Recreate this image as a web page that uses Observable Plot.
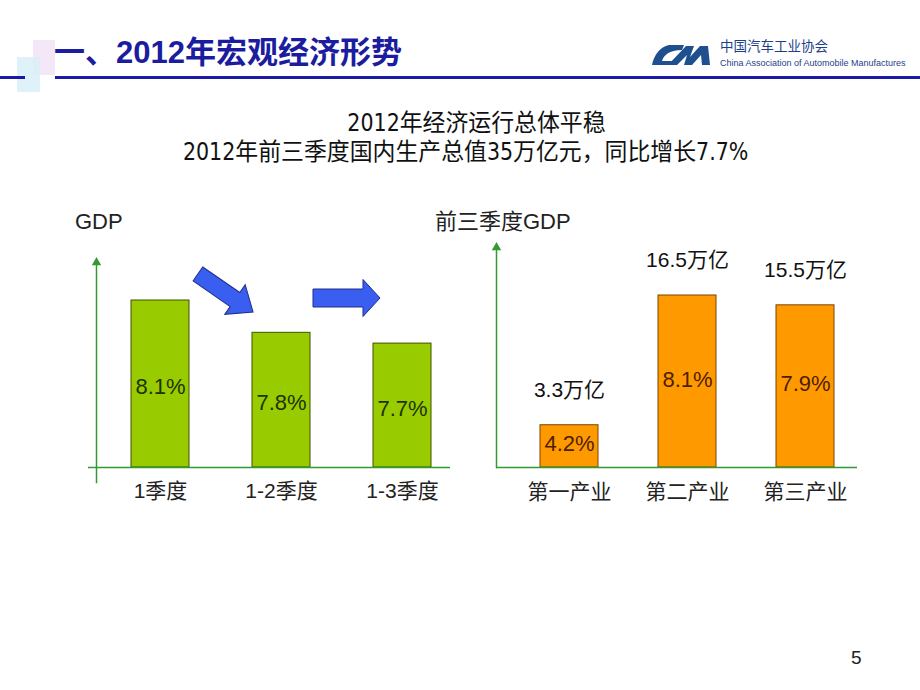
<!DOCTYPE html>
<html><head><meta charset="utf-8">
<script src="https://cdn.jsdelivr.net/npm/d3@7"></script>
<script src="https://cdn.jsdelivr.net/npm/@observablehq/plot@0.6"></script>
<style>
body{margin:0;background:#fff;}
#page{position:relative;width:920px;height:690px;overflow:hidden;background:#fff;font-family:"Liberation Sans","Noto Sans CJK SC",sans-serif;}
.abs{position:absolute;white-space:nowrap;}
.chart{position:absolute;top:200px;}
.ttl{top:0;line-height:30px;font-size:24px;color:#111;font-family:'Liberation Sans Narrow','DejaVu Sans Condensed','Noto Sans CJK SC',sans-serif;transform:scaleX(0.953);transform-origin:50% 50%;}
</style></head><body>
<div id="page">
  <div class="abs" style="left:33px;top:40px;width:22px;height:35px;background:#f1e3f7;opacity:.85"></div>
  <div class="abs" style="left:17px;top:57px;width:23px;height:35px;background:#d9eef8;opacity:.85"></div>
  <div class="abs" style="left:0;top:76px;width:25px;height:3px;background:#1a1aa6"></div>
  <div class="abs" style="left:55px;top:76px;width:865px;height:3px;background:#1a1aa6"></div>
  <div class="abs" style="left:54px;top:33px;line-height:40px;font-size:31px;font-weight:bold;color:#1c1c9e">一、2012年宏观经济形势</div>
  <svg class="abs" style="left:640px;top:36px" width="80" height="36" viewBox="640 36 80 36">
    <path d="M684,45 L669,45 C660,47 654,55 652,65 L672,65 L674,61 L662,61 C664,55 669,50 682,50 Z" fill="#1e4f8f"/>
    <path d="M668,65 L686,46 L694,46 L690,57 L700,46 L708,46 L710,65 L702,65 L701,55 L692,65 L684,65 L687,55 L677,65 Z" fill="#1e4f8f"/>
  </svg>
  <div class="abs" style="left:720px;top:38px;line-height:18px;font-size:13.5px;color:#1d3f8a">中国汽车工业协会</div>
  <div class="abs" style="left:720px;top:57px;line-height:12px;font-size:9px;color:#1d3f8a">China Association of Automobile Manufactures</div>
  <div id="t1" class="abs ttl" style="top:108px">2012年经济运行总体平稳</div>
  <div id="t2" class="abs ttl" style="top:137px">2012年前三季度国内生产总值35万亿元，同比增长7.7%</div>
  <div class="abs" style="left:75px;top:208px;line-height:28px;font-size:22px;color:#222">GDP</div>
  <div class="abs" style="left:435px;top:208px;line-height:28px;font-size:22px;color:#222">前三季度GDP</div>
  <div id="left" class="chart" style="left:0"></div>
  <div id="right" class="chart" style="left:460px"></div>
  <div class="abs" style="left:851px;top:646px;line-height:24px;font-size:19px;color:#222">5</div>
</div>
<script>
// ---- data ----
const growthPeriods = ["1季度", "1-2季度", "1-3季度"];
const growthRates = [8.1, 7.8, 7.7];
const growthLabels = ["8.1%", "7.8%", "7.7%"];
const trendArrows = ["down", "flat"];
const sectors = ["第一产业", "第二产业", "第三产业"];
const sectorGDP = [3.3, 16.5, 15.5];
const sectorGDPLabels = ["3.3万亿", "16.5万亿", "15.5万亿"];
const sectorGrowth = ["4.2%", "8.1%", "7.9%"];

// center title lines
function centerAt(id, cx){ const el=document.getElementById(id); el.style.left=(cx - el.offsetWidth/2)+"px"; }
centerAt("t1", 476); centerAt("t2", 465);

const fontStack = '"Liberation Sans","Noto Sans CJK SC",sans-serif';
const axisGreen = "#339933";

// ---- left chart ----
const leftData = growthPeriods.map((p, i) => ({period: p, rate: growthRates[i], label: growthLabels[i]}));
const leftBase = 6.55;
const left = Plot.plot({
  width: 460, height: 310,
  marginLeft: 96, marginRight: 10, marginTop: 62, marginBottom: 28,
  style: {fontFamily: fontStack, fontSize: "21px", color: "#222", background: "transparent", overflow: "visible"},
  x: {domain: growthPeriods, range: [99.5, 462.5], paddingInner: 0.52, paddingOuter: 0.26},
  y: {domain: [leftBase, 8.1], range: [267, 100], axis: null},
  marks: [
    Plot.barY(leftData, {x: "period", y1: leftBase, y2: "rate", fill: "#99cc00", stroke: "#3d5200", strokeWidth: 1}),
    Plot.text(leftData, {x: "period", y: d => (leftBase + d.rate) / 2, dy: 3, text: "label", fill: "#1d3300", fontSize: 22}),
    Plot.frame({anchor: "left", stroke: axisGreen, strokeWidth: 1.5}),
    Plot.ruleY([leftBase], {stroke: axisGreen, strokeWidth: 1.5, insetLeft: -8}),
    Plot.dot([0], {frameAnchor: "top-left", symbol: "triangle", r: 3.5, fill: axisGreen}),
    Plot.axisX({tickSize: 0, tickPadding: 1, fontSize: 21, label: null, fill: "#222"})
  ]
});
document.getElementById("left").appendChild(left);

// trend arrows between the bars
const xs = left.scale("x");
const bw = xs.bandwidth;
const arrowG = d3.select(left).append("g");
trendArrows.forEach((t, i) => {
  const gap = (xs.apply(growthPeriods[i]) + bw + xs.apply(growthPeriods[i + 1])) / 2 + 5;
  const down = t === "down";
  const L = 67, sw = down ? 8.5 : 9, hw = down ? 18 : 18.5, hl = down ? 22 : 17;
  const pts = [[-L/2, -sw], [L/2 - hl, -sw], [L/2 - hl, -hw], [L/2, 0], [L/2 - hl, hw], [L/2 - hl, sw], [-L/2, sw]];
  const cy = down ? 93 : 98;
  arrowG.append("polygon")
    .attr("points", pts.map(p => p.join(",")).join(" "))
    .attr("transform", `translate(${gap},${cy}) rotate(${down ? 34.6 : 0})`)
    .attr("fill", "#3a5ff0").attr("stroke", "#1c2f8f").attr("stroke-width", 1);
});

// ---- right chart ----
const rightData = sectors.map((s, i) => ({sector: s, gdp: sectorGDP[i], gdpLabel: sectorGDPLabels[i], growth: sectorGrowth[i]}));
const rightBase = -1;
const right = Plot.plot({
  width: 460, height: 310,
  marginLeft: 36, marginRight: 63, marginTop: 47, marginBottom: 43,
  style: {fontFamily: fontStack, fontSize: "21px", color: "#222", background: "transparent", overflow: "visible"},
  x: {domain: sectors, range: [49, 404], paddingInner: 0.51, paddingOuter: 0.255},
  y: {domain: [rightBase, 16.5], range: [267, 95], axis: null},
  marks: [
    Plot.barY(rightData, {x: "sector", y1: rightBase, y2: "gdp", fill: "#ff9900", stroke: "#7a4400", strokeWidth: 1}),
    Plot.text(rightData, {x: "sector", y: d => (rightBase + d.gdp) / 2, dy: -2, text: "growth", fill: "#4f1e00", fontSize: 22}),
    Plot.text(rightData, {x: "sector", y: "gdp", dy: -35, text: "gdpLabel", fill: "#111", fontSize: 21}),
    Plot.frame({anchor: "left", stroke: axisGreen, strokeWidth: 1.5}),
    Plot.ruleY([rightBase], {stroke: axisGreen, strokeWidth: 1.5}),
    Plot.dot([0], {frameAnchor: "top-left", symbol: "triangle", r: 3.5, fill: axisGreen}),
    Plot.axisX({tickSize: 0, tickPadding: 17, fontSize: 21, label: null, fill: "#222"})
  ]
});
document.getElementById("right").appendChild(right);
</script>
</body></html>
